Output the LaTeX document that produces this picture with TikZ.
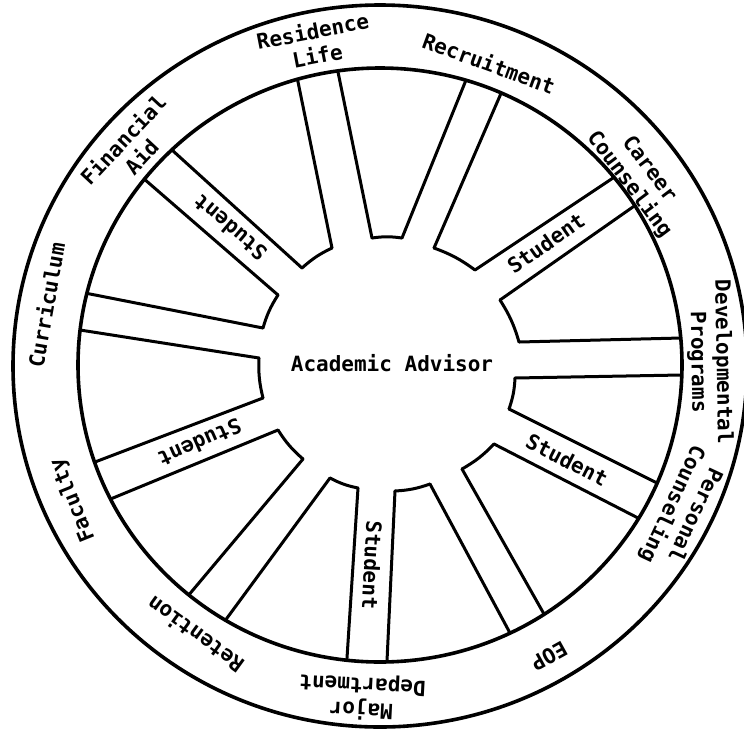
\documentclass[tikz,border=0pt]{standalone}
\usepackage{fontspec}
\setmonofont{DejaVu Sans Mono}
\begin{document}
\begin{tikzpicture}[x=1pt,y=-1pt, line join=round, line cap=round,
  wheel/.style={line width=3.6pt},
  spoke/.style={line width=3pt, shorten >=-14pt},
  hubarc/.style={line width=3pt},
  lbl/.style={font=\ttfamily\bfseries\fontsize{21}{25}\selectfont, align=center, inner sep=0pt},
]
\useasboundingbox (0,0) rectangle (744,732);

% rim
\draw[wheel] (380,366) ellipse [x radius=367pt, y radius=361pt];
\draw[wheel] (380,365) ellipse [x radius=302pt, y radius=297pt];

% spoke end points (i = at hub, o = towards rim)
\coordinate (A1i) at (332,248); \coordinate (A1o) at (297,77);
\coordinate (A2i) at (372,238); \coordinate (A2o) at (338,72);
\coordinate (B1i) at (402,238); \coordinate (B1o) at (464,85);
\coordinate (B2i) at (434,248); \coordinate (B2o) at (499,98);
\coordinate (C1i) at (475,270); \coordinate (C1o) at (607,182);
\coordinate (C2i) at (500,300); \coordinate (C2o) at (630,209);
\coordinate (D1i) at (519,342); \coordinate (D1o) at (681,338);
\coordinate (D2i) at (515,378); \coordinate (D2o) at (681,375);
\coordinate (E1i) at (509,409); \coordinate (E1o) at (657,483);
\coordinate (E2i) at (494,444); \coordinate (E2o) at (640,519);
\coordinate (F1i) at (462,469); \coordinate (F1o) at (544,614);
\coordinate (F2i) at (430,484); \coordinate (F2o) at (510,633);
\coordinate (G1i) at (395,491); \coordinate (G1o) at (387,661);
\coordinate (G2i) at (358,488); \coordinate (G2o) at (347,658);
\coordinate (H1i) at (330,478); \coordinate (H1o) at (230,614);
\coordinate (H2i) at (303,459); \coordinate (H2o) at (198,584);
\coordinate (I1i) at (278,430); \coordinate (I1o) at (113,498);
\coordinate (I2i) at (263,398); \coordinate (I2o) at (95,462);
\coordinate (J1i) at (259,358); \coordinate (J1o) at (80,330);
\coordinate (J2i) at (263,328); \coordinate (J2o) at (85,293);
\coordinate (K1i) at (278,295); \coordinate (K1o) at (143,178);
\coordinate (K2i) at (302,268); \coordinate (K2o) at (172,150);

\begin{scope}
\clip (380,365) ellipse [x radius=302pt, y radius=297pt];
\foreach \s in {A,B,C,D,E,F,G,H,I,J,K}{
  \draw[spoke] (\s1i) -- (\s1o);
  \draw[spoke] (\s2i) -- (\s2o);
}
\end{scope}

% hub arcs
\draw[hubarc] (A2i) to[bend left=8] (B1i);
\draw[hubarc] (B2i) to[bend left=8] (C1i);
\draw[hubarc] (C2i) to[bend left=8] (D1i);
\draw[hubarc] (D2i) to[bend left=8] (E1i);
\draw[hubarc] (E2i) to[bend left=8] (F1i);
\draw[hubarc] (F2i) to[bend left=8] (G1i);
\draw[hubarc] (G2i) to[bend left=8] (H1i);
\draw[hubarc] (H2i) to[bend left=8] (I1i);
\draw[hubarc] (I2i) to[bend left=8] (J1i);
\draw[hubarc] (J2i) to[bend left=8] (K1i);
\draw[hubarc] (K2i) to[bend left=8] (A1i);

% centre
\node[lbl] (hub) at (392,363) {Academic Advisor};

% rim labels
\node[lbl, rotate=11]  (res)  at (315,43)  {Residence\\Life};
\node[lbl, rotate=-20] (rec)  at (489,63)  {Recruitment};
\node[lbl, rotate=-53] (car)  at (639,177) {Career\\Counseling};
\node[lbl, rotate=-89] (dev)  at (710,362) {Developmental\\Programs};
\node[lbl, rotate=-115](per)  at (683,509) {Personal\\Counseling};
\node[lbl, rotate=-151](eop)  at (549,656) {EOP};
\node[lbl, rotate=177] (maj)  at (362,697) {Major\\Department};
\node[lbl, rotate=144] (ret)  at (195,635) {Retention};
\node[lbl, rotate=112] (fac)  at (73,500)  {Faculty};
\node[lbl, rotate=80]  (cur)  at (46,305)  {Curriculum};
\node[lbl, rotate=47]  (fin)  at (132,148) {Financial\\Aid};

% student labels in spokes
\node[lbl, rotate=140]  (sK) at (230,228) {Student};
\node[lbl, rotate=35]   (sC) at (546,243) {Student};
\node[lbl, rotate=-27]  (sE) at (567,460) {Student};
\node[lbl, rotate=-93]  (sG) at (372,565) {Student};
\node[lbl, rotate=-156] (sI) at (200,443) {Student};
\end{tikzpicture}
\end{document}
